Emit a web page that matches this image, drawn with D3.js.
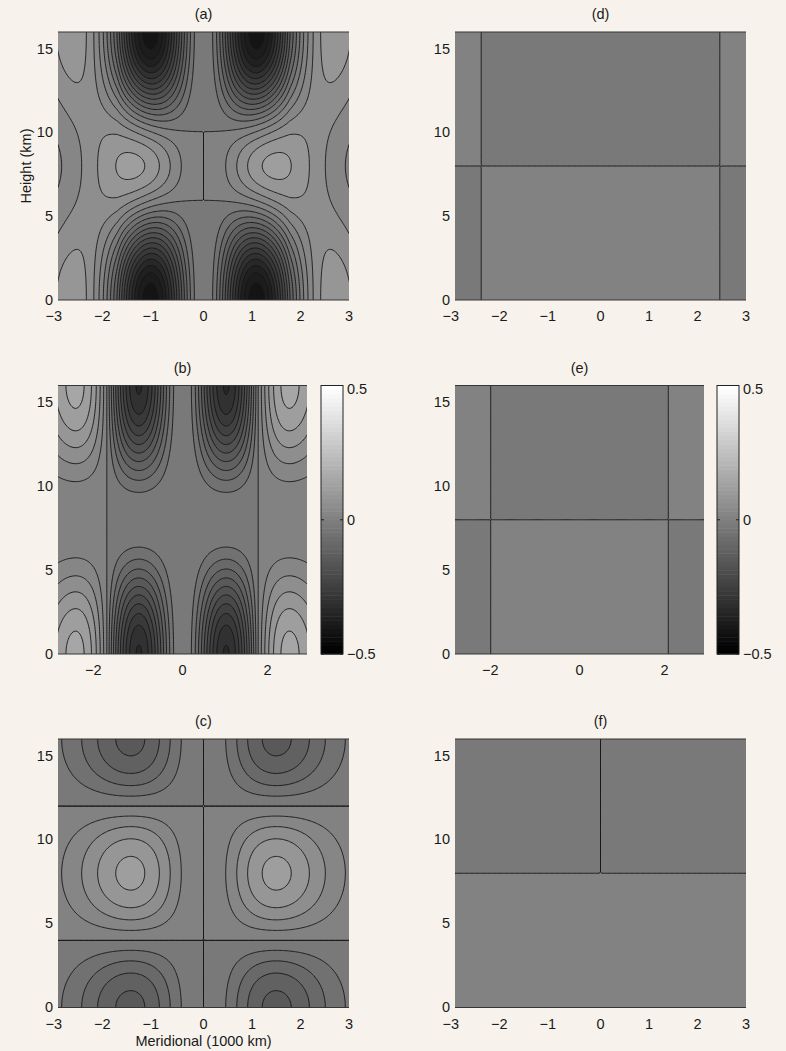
<!DOCTYPE html>
<html>
<head>
<meta charset="utf-8">
<script src="https://cdn.jsdelivr.net/npm/d3@7"></script>
<style>
  body { margin: 0; background: #f7f3ec; }
  svg { display: block; }
  text { font-family: "Liberation Sans", Arial, sans-serif; fill: #1a1a1a; }
</style>
</head>
<body>
<div id="chart"></div>
<script>
const width = 786, height = 1051;

// contour levels shared by all six panels
const levels = [-0.48, -0.45, -0.42, -0.39, -0.36, -0.33, -0.30, -0.27, -0.24, -0.21, -0.18,
                -0.15, -0.12, -0.09, -0.06, -0.03, 0, 0.03, 0.06, 0.09, 0.12, 0.15, 0.18,
                0.21, 0.24, 0.27, 0.30, 0.33, 0.36, 0.39, 0.42, 0.45, 0.48];
const colorRange = [-0.5, 0.5];
const nColors = 64;

// ticks
const yTicks = [0, 5, 10, 15];
const xTicksWide = [-3, -2, -1, 0, 1, 2, 3];
const xTicksNarrow = [-2, 0, 2];
const cbarTicks = [-0.5, 0, 0.5];

// field parameters
const zDomain = [0, 16];
const zMid = 8;
const bAmp = 1.0;          // (b) meridional shape t(t - bZeroT)e^-t, t = (x/bWidth)^2
const bWidth = 1.453;
const bZeroT = 1.5;
const bOuterScale = 0.72;  // outer (light) lobe is weaker
const cAmp = 0.13;         // (c) peak value, at x = +-cPeakX
const cPeakX = 1.5;
const dZeroX = 2.46;       // zero lines of (d) and (e)
const eZeroX = 2.09;
const weakAmp = 1e-5;      // (d)-(f) are almost flat

function vertB(z) { return (1 + Math.cos(Math.PI * z / zMid)) / 2; }
function shapeB(x) {
    const t = (x / bWidth) ** 2;
    const f = t * (t - bZeroT) * Math.exp(-t);
    return t > bZeroT ? f * bOuterScale : f;
}
function shapeC(x) {
    const s = (x / cPeakX) ** 2;
    return s * Math.exp(1 - s);
}
const fieldB = (x, z) => bAmp * shapeB(x) * vertB(z);
const fieldC = (x, z) => -cAmp * shapeC(x) * Math.cos(Math.PI * z / zMid);
const fieldA = (x, z) => fieldB(x, z) + fieldC(x, z);
const fieldD = (x, z) => weakAmp * (x * x - dZeroX * dZeroX) * (z - zMid);
const fieldE = (x, z) => weakAmp * (x * x - eZeroX * eZeroX) * (z - zMid);
const fieldF = (x, z) => z > zMid ? -weakAmp * x * x * (z - zMid) : weakAmp * (zMid - z);

const panels = [
    { title: "(a)", left: 58, right: 349, top: 32, bottom: 300, xMax: 3, xTicks: xTicksWide, field: fieldA, zeroLines: [1e-9], offset: false },
    { title: "(b)", left: 58, right: 307, top: 385.5, bottom: 654, xMax: 2.93, xTicks: xTicksNarrow, field: fieldB, zeroLines: [0], offset: true, cbar: [321, 343] },
    { title: "(c)", left: 58, right: 349, top: 739, bottom: 1007.5, xMax: 3, xTicks: xTicksWide, field: fieldC, zeroLines: [0, 1e-9], offset: false },
    { title: "(d)", left: 455, right: 746, top: 32, bottom: 300, xMax: 3, xTicks: xTicksWide, field: fieldD, zeroLines: [0], offset: false },
    { title: "(e)", left: 455, right: 704, top: 385.5, bottom: 654, xMax: 2.93, xTicks: xTicksNarrow, field: fieldE, zeroLines: [0], offset: false, cbar: [717, 739] },
    { title: "(f)", left: 455, right: 746, top: 739, bottom: 1007.5, xMax: 3, xTicks: xTicksWide, field: fieldF, zeroLines: [0], offset: false }
];

const fs = 14.5;
const halfX = 120, halfZ = 80, ext = 2;

// MATLAB-like gray(64) colormap
function gray64(v) {
    let k = Math.floor((v - colorRange[0]) / (colorRange[1] - colorRange[0]) * nColors);
    k = Math.max(0, Math.min(nColors - 1, k));
    const g = Math.round(k / (nColors - 1) * 255);
    return d3.rgb(g, g, g).formatHex();
}
const fmt = v => (v < 0 ? "\u2212" : "") + Math.abs(v);

const svg = d3.select("#chart").append("svg")
    .attr("width", width)
    .attr("height", height);

panels.forEach((p, pi) => {
    const x = d3.scaleLinear().domain([-p.xMax, p.xMax]).range([p.left, p.right]);
    const y = d3.scaleLinear().domain(zDomain).range([p.bottom, p.top]);

    // grid, a little wider than the plot so border rings get clipped away
    const nx = 2 * (halfX + ext) + (p.offset ? 0 : 1);
    const nz = 2 * (halfZ + ext) + (p.offset ? 0 : 1);
    const dx = p.xMax / halfX, dz = (zDomain[1] - zMid) / halfZ;
    const cx = (nx - 1) / 2, cz = (nz - 1) / 2;
    const values = new Float64Array(nx * nz);
    for (let j = 0; j < nz; j++) {
        const zz = zMid + (j - cz) * dz;
        for (let i = 0; i < nx; i++) {
            values[j * nx + i] = p.field((i - cx) * dx, zz);
        }
    }

    const proj = d3.geoTransform({
        point: function (gx, gy) {
            this.stream.point(x((gx - 0.5 - cx) * dx), y(zMid + (gy - 0.5 - cz) * dz));
        }
    });
    const path = d3.geoPath(proj);
    const contours = d3.contours().size([nx, nz]);

    svg.append("clipPath").attr("id", "clip" + pi)
        .append("rect")
        .attr("x", p.left).attr("y", p.top)
        .attr("width", p.right - p.left).attr("height", p.bottom - p.top);

    const g = svg.append("g").attr("clip-path", `url(#clip${pi})`);

    g.append("rect")
        .attr("x", p.left).attr("y", p.top)
        .attr("width", p.right - p.left).attr("height", p.bottom - p.top)
        .attr("fill", gray64(levels[0] - 0.03));

    // filled bands: region above each level gets that level's colour
    levels.forEach(lv => {
        g.append("path")
            .attr("d", path(contours.contour(values, lv)))
            .attr("fill", gray64(lv))
            .attr("fill-rule", "evenodd");
    });

    // contour lines
    const lineLevels = levels.filter(lv => lv !== 0).concat(p.zeroLines);
    lineLevels.forEach(lv => {
        g.append("path")
            .attr("d", path(contours.contour(values, lv)))
            .attr("fill", "none")
            .attr("stroke", "#151515")
            .attr("stroke-width", 0.9);
    });

    // top and bottom edges
    [p.top, p.bottom].forEach(yy => {
        svg.append("line")
            .attr("x1", p.left).attr("x2", p.right)
            .attr("y1", yy).attr("y2", yy)
            .attr("stroke", "#363636")
            .attr("stroke-width", 1.2);
    });

    // Y ticks
    svg.append("g").selectAll("text")
        .data(yTicks)
        .enter().append("text")
        .attr("x", p.left - 5)
        .attr("y", d => y(d) + 0.33 * fs)
        .attr("text-anchor", "end")
        .attr("font-size", fs + "px")
        .text(fmt);

    // X ticks (digits centred on the tick, minus hangs to the left)
    svg.append("g").selectAll("text")
        .data(p.xTicks)
        .enter().append("text")
        .attr("x", d => x(d) + 0.278 * fs * String(Math.abs(d)).length)
        .attr("y", p.bottom + 21)
        .attr("text-anchor", "end")
        .attr("font-size", fs + "px")
        .text(fmt);

    // title
    svg.append("text")
        .attr("x", (p.left + p.right) / 2)
        .attr("y", p.top - 12.6)
        .attr("text-anchor", "middle")
        .attr("font-size", fs + "px")
        .text(p.title);

    // colour bar
    if (p.cbar) {
        const cy = d3.scaleLinear().domain(colorRange).range([p.bottom, p.top]);
        const step = (colorRange[1] - colorRange[0]) / nColors;
        svg.append("g").selectAll("rect")
            .data(d3.range(nColors))
            .enter().append("rect")
            .attr("x", p.cbar[0])
            .attr("y", k => cy(colorRange[0] + (k + 1) * step))
            .attr("width", p.cbar[1] - p.cbar[0])
            .attr("height", k => cy(colorRange[0]) - cy(colorRange[0] + step) + 0.5)
            .attr("fill", k => gray64(colorRange[0] + (k + 0.5) * step));
        svg.append("rect")
            .attr("x", p.cbar[0]).attr("y", p.top)
            .attr("width", p.cbar[1] - p.cbar[0]).attr("height", p.bottom - p.top)
            .attr("fill", "none")
            .attr("stroke", "#222")
            .attr("stroke-width", 1);
        cbarTicks.forEach(t => {
            svg.append("line")
                .attr("x1", p.cbar[0]).attr("x2", p.cbar[0] + 3)
                .attr("y1", cy(t)).attr("y2", cy(t))
                .attr("stroke", "#222");
            svg.append("line")
                .attr("x1", p.cbar[1] - 3).attr("x2", p.cbar[1])
                .attr("y1", cy(t)).attr("y2", cy(t))
                .attr("stroke", "#222");
        });
        svg.append("g").selectAll("text")
            .data(cbarTicks)
            .enter().append("text")
            .attr("x", p.cbar[1] + 4)
            .attr("y", d => cy(d) + 0.358 * fs + (d === 0.5 ? 3 : 0))
            .attr("font-size", fs + "px")
            .text(fmt);
    }
});

// axis labels
svg.append("text")
    .attr("transform", "translate(25.5,166) rotate(-90)")
    .attr("dy", "0.35em")
    .attr("text-anchor", "middle")
    .attr("font-size", fs + "px")
    .text("Height (km)");

svg.append("text")
    .attr("x", 203.5)
    .attr("y", 1046.3)
    .attr("text-anchor", "middle")
    .attr("font-size", fs + "px")
    .text("Meridional (1000 km)");
</script>
</body>
</html>
